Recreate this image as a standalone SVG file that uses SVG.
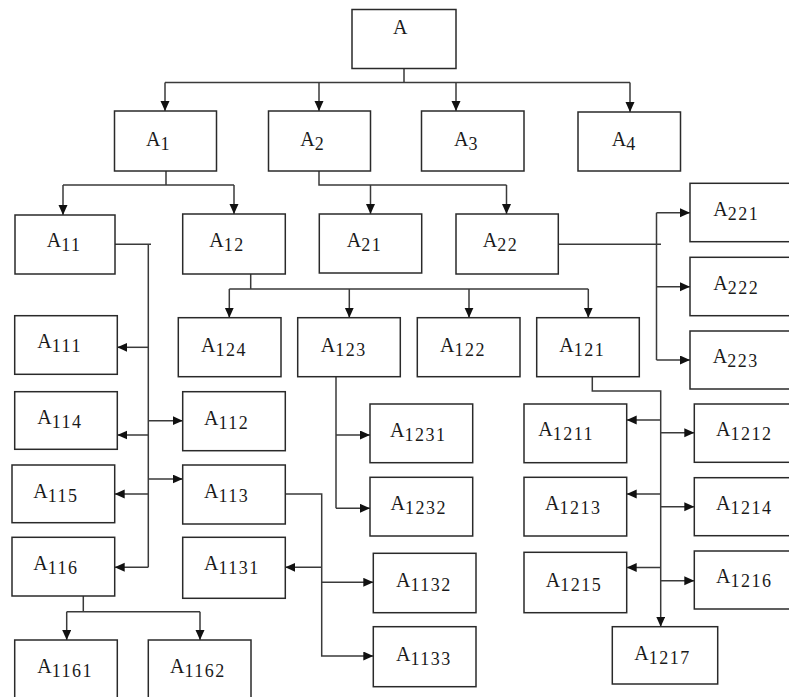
<svg xmlns="http://www.w3.org/2000/svg" width="789" height="697" viewBox="0 0 789 697">
<style>
rect{fill:#fff;stroke:#2a2a2a;stroke-width:1.5}
.c path{fill:none;stroke:#3a3a3a;stroke-width:1.5}
.c path.a{marker-end:url(#ah)}
text{font-family:"Liberation Serif","Times New Roman",serif;font-size:20px;fill:#1a1a1a}
.s{font-size:18px;letter-spacing:1.5px}
</style>
<defs>
<marker id="ah" markerUnits="userSpaceOnUse" markerWidth="11" markerHeight="10" refX="10" refY="4.5" orient="auto">
<path d="M0,0 L10,4.5 L0,9 z" fill="#111"/>
</marker>
</defs>
<rect x="0" y="0" width="789" height="697" style="stroke:none;fill:#fff"/>
<g class="c">
<path d="M404,68 V82.5 M165,82.5 H630"/>
<path class="a" d="M165,82.5 V111"/>
<path class="a" d="M319,82.5 V111"/>
<path class="a" d="M456,82.5 V111"/>
<path class="a" d="M630,82.5 V112"/>
<path d="M166,171 V185 M63,185 H234"/>
<path class="a" d="M63,185 V215"/>
<path class="a" d="M234,185 V214"/>
<path d="M319,171 V185 H506.5"/>
<path class="a" d="M370.5,185 V214"/>
<path class="a" d="M506.5,185 V214"/>
<path d="M115,244.3 H151 M148.3,244.3 V567.3"/>
<path class="a" d="M148.3,347.3 H117.3"/>
<path class="a" d="M148.3,420.7 H182.7"/>
<path class="a" d="M148.3,435 H117.3"/>
<path class="a" d="M148.3,479 H182.7"/>
<path class="a" d="M148.3,494 H114.7"/>
<path class="a" d="M148.3,567.3 H114.7"/>
<path d="M250.7,274 V289 M229.3,289 H588.3"/>
<path class="a" d="M229.3,289 V317.7"/>
<path class="a" d="M349.3,289 V317.7"/>
<path class="a" d="M469,289 V317.7"/>
<path class="a" d="M588.3,289 V317.7"/>
<path d="M558.3,244.3 H661 M656.5,212.7 V360"/>
<path class="a" d="M656.5,212.7 H690"/>
<path class="a" d="M656.5,286.7 H690"/>
<path class="a" d="M656.5,360 H690"/>
<path d="M336,376.7 V508.3"/>
<path class="a" d="M336,435 H370"/>
<path class="a" d="M336,508.3 H370"/>
<path class="a" d="M592.3,376.7 V391 H660.7 V626.7"/>
<path class="a" d="M660.7,420 H626.7"/>
<path class="a" d="M660.7,432.7 H694.3"/>
<path class="a" d="M660.7,494 H626.7"/>
<path class="a" d="M660.7,506.7 H694.3"/>
<path class="a" d="M660.7,567.5 H626.7"/>
<path class="a" d="M660.7,580.7 H694.3"/>
<path class="a" d="M285.3,494 H321.7 V656 H373.3"/>
<path class="a" d="M321.7,567.3 H285.3"/>
<path class="a" d="M321.7,582.3 H373.3"/>
<path d="M83.3,596 V611.7 M66.7,611.7 H200"/>
<path class="a" d="M66.7,611.7 V640"/>
<path class="a" d="M200,611.7 V640"/>
</g>
<g id="A"><rect x="352" y="9.5" width="104" height="59"/><text x="393" y="34.3">A</text></g>
<g id="A1"><rect x="114.5" y="111" width="102" height="60"/><text x="146" y="145.7">A<tspan class="s" dy="4">1</tspan></text></g>
<g id="A2"><rect x="268.5" y="111" width="102" height="60"/><text x="300.2" y="145.7">A<tspan class="s" dy="4">2</tspan></text></g>
<g id="A3"><rect x="421.5" y="111" width="102.5" height="60"/><text x="454" y="145.7">A<tspan class="s" dy="4">3</tspan></text></g>
<g id="A4"><rect x="578" y="112" width="102.5" height="59"/><text x="611.7" y="145.7">A<tspan class="s" dy="4">4</tspan></text></g>
<g id="A11"><rect x="15" y="215" width="100" height="59"/><text x="46.7" y="247.3">A<tspan class="s" dy="4">11</tspan></text></g>
<g id="A12"><rect x="182.7" y="214" width="102.6" height="60"/><text x="209.3" y="247.3">A<tspan class="s" dy="4">12</tspan></text></g>
<g id="A21"><rect x="319.3" y="214" width="102.4" height="59"/><text x="346.7" y="247.3">A<tspan class="s" dy="4">21</tspan></text></g>
<g id="A22"><rect x="456" y="214" width="102.3" height="60"/><text x="482.7" y="247.3">A<tspan class="s" dy="4">22</tspan></text></g>
<g id="A221"><rect x="690" y="183.3" width="110" height="58.4"/><text x="713.3" y="216">A<tspan class="s" dy="4">221</tspan></text></g>
<g id="A222"><rect x="690" y="257.3" width="110" height="58.4"/><text x="713.3" y="290">A<tspan class="s" dy="4">222</tspan></text></g>
<g id="A223"><rect x="690" y="331" width="110" height="58"/><text x="712.7" y="363.3">A<tspan class="s" dy="4">223</tspan></text></g>
<g id="A111"><rect x="14.7" y="315.7" width="102.6" height="58.6"/><text x="37.3" y="348.3">A<tspan class="s" dy="4">111</tspan></text></g>
<g id="A124"><rect x="178.3" y="317.7" width="102.7" height="59"/><text x="201" y="351.7">A<tspan class="s" dy="4">124</tspan></text></g>
<g id="A123"><rect x="297.7" y="317.7" width="102.6" height="59"/><text x="320.7" y="351.7">A<tspan class="s" dy="4">123</tspan></text></g>
<g id="A122"><rect x="417.3" y="317.7" width="102.7" height="59"/><text x="440" y="351.7">A<tspan class="s" dy="4">122</tspan></text></g>
<g id="A121"><rect x="536.7" y="317.7" width="102.6" height="59"/><text x="559.3" y="351.7">A<tspan class="s" dy="4">121</tspan></text></g>
<g id="A114"><rect x="14.7" y="391.7" width="102.6" height="57.6"/><text x="37.3" y="424">A<tspan class="s" dy="4">114</tspan></text></g>
<g id="A112"><rect x="182.7" y="391.7" width="102.6" height="59"/><text x="204" y="425">A<tspan class="s" dy="4">112</tspan></text></g>
<g id="A1231"><rect x="370" y="404" width="102.7" height="58.7"/><text x="390" y="437.3">A<tspan class="s" dy="4">1231</tspan></text></g>
<g id="A1211"><rect x="524" y="404" width="102.7" height="58.7"/><text x="538.3" y="436">A<tspan class="s" dy="4">1211</tspan></text></g>
<g id="A1212"><rect x="694.3" y="404" width="110" height="58.3"/><text x="716" y="436">A<tspan class="s" dy="4">1212</tspan></text></g>
<g id="A115"><rect x="12" y="465" width="102.7" height="57.7"/><text x="33.3" y="498.3">A<tspan class="s" dy="4">115</tspan></text></g>
<g id="A113"><rect x="182.7" y="465" width="102.6" height="59"/><text x="204" y="498.3">A<tspan class="s" dy="4">113</tspan></text></g>
<g id="A1232"><rect x="370" y="477.3" width="102.7" height="58.7"/><text x="390.5" y="510">A<tspan class="s" dy="4">1232</tspan></text></g>
<g id="A1213"><rect x="524" y="477.3" width="102.7" height="58.7"/><text x="545" y="510">A<tspan class="s" dy="4">1213</tspan></text></g>
<g id="A1214"><rect x="694.3" y="477.7" width="110" height="58"/><text x="716" y="510">A<tspan class="s" dy="4">1214</tspan></text></g>
<g id="A116"><rect x="12" y="537.3" width="102.7" height="58.7"/><text x="33.3" y="570">A<tspan class="s" dy="4">116</tspan></text></g>
<g id="A1131"><rect x="182.7" y="537.3" width="102.6" height="61"/><text x="204" y="570">A<tspan class="s" dy="4">1131</tspan></text></g>
<g id="A1132"><rect x="373.3" y="553.3" width="102.7" height="59.4"/><text x="396" y="586.7">A<tspan class="s" dy="4">1132</tspan></text></g>
<g id="A1215"><rect x="524" y="552.3" width="102.7" height="60.4"/><text x="545.7" y="586.7">A<tspan class="s" dy="4">1215</tspan></text></g>
<g id="A1216"><rect x="694.3" y="551" width="110" height="58"/><text x="716" y="583.3">A<tspan class="s" dy="4">1216</tspan></text></g>
<g id="A1217"><rect x="612.3" y="626.7" width="105.4" height="57.3"/><text x="634.3" y="660">A<tspan class="s" dy="4">1217</tspan></text></g>
<g id="A1133"><rect x="373.3" y="626.7" width="102.7" height="60"/><text x="396" y="660.7">A<tspan class="s" dy="4">1133</tspan></text></g>
<g id="A1161"><rect x="14.7" y="640" width="102.6" height="70"/><text x="37.3" y="673.3">A<tspan class="s" dy="4">1161</tspan></text></g>
<g id="A1162"><rect x="148.3" y="640" width="102.7" height="70"/><text x="170" y="673.3">A<tspan class="s" dy="4">1162</tspan></text></g>
</svg>
